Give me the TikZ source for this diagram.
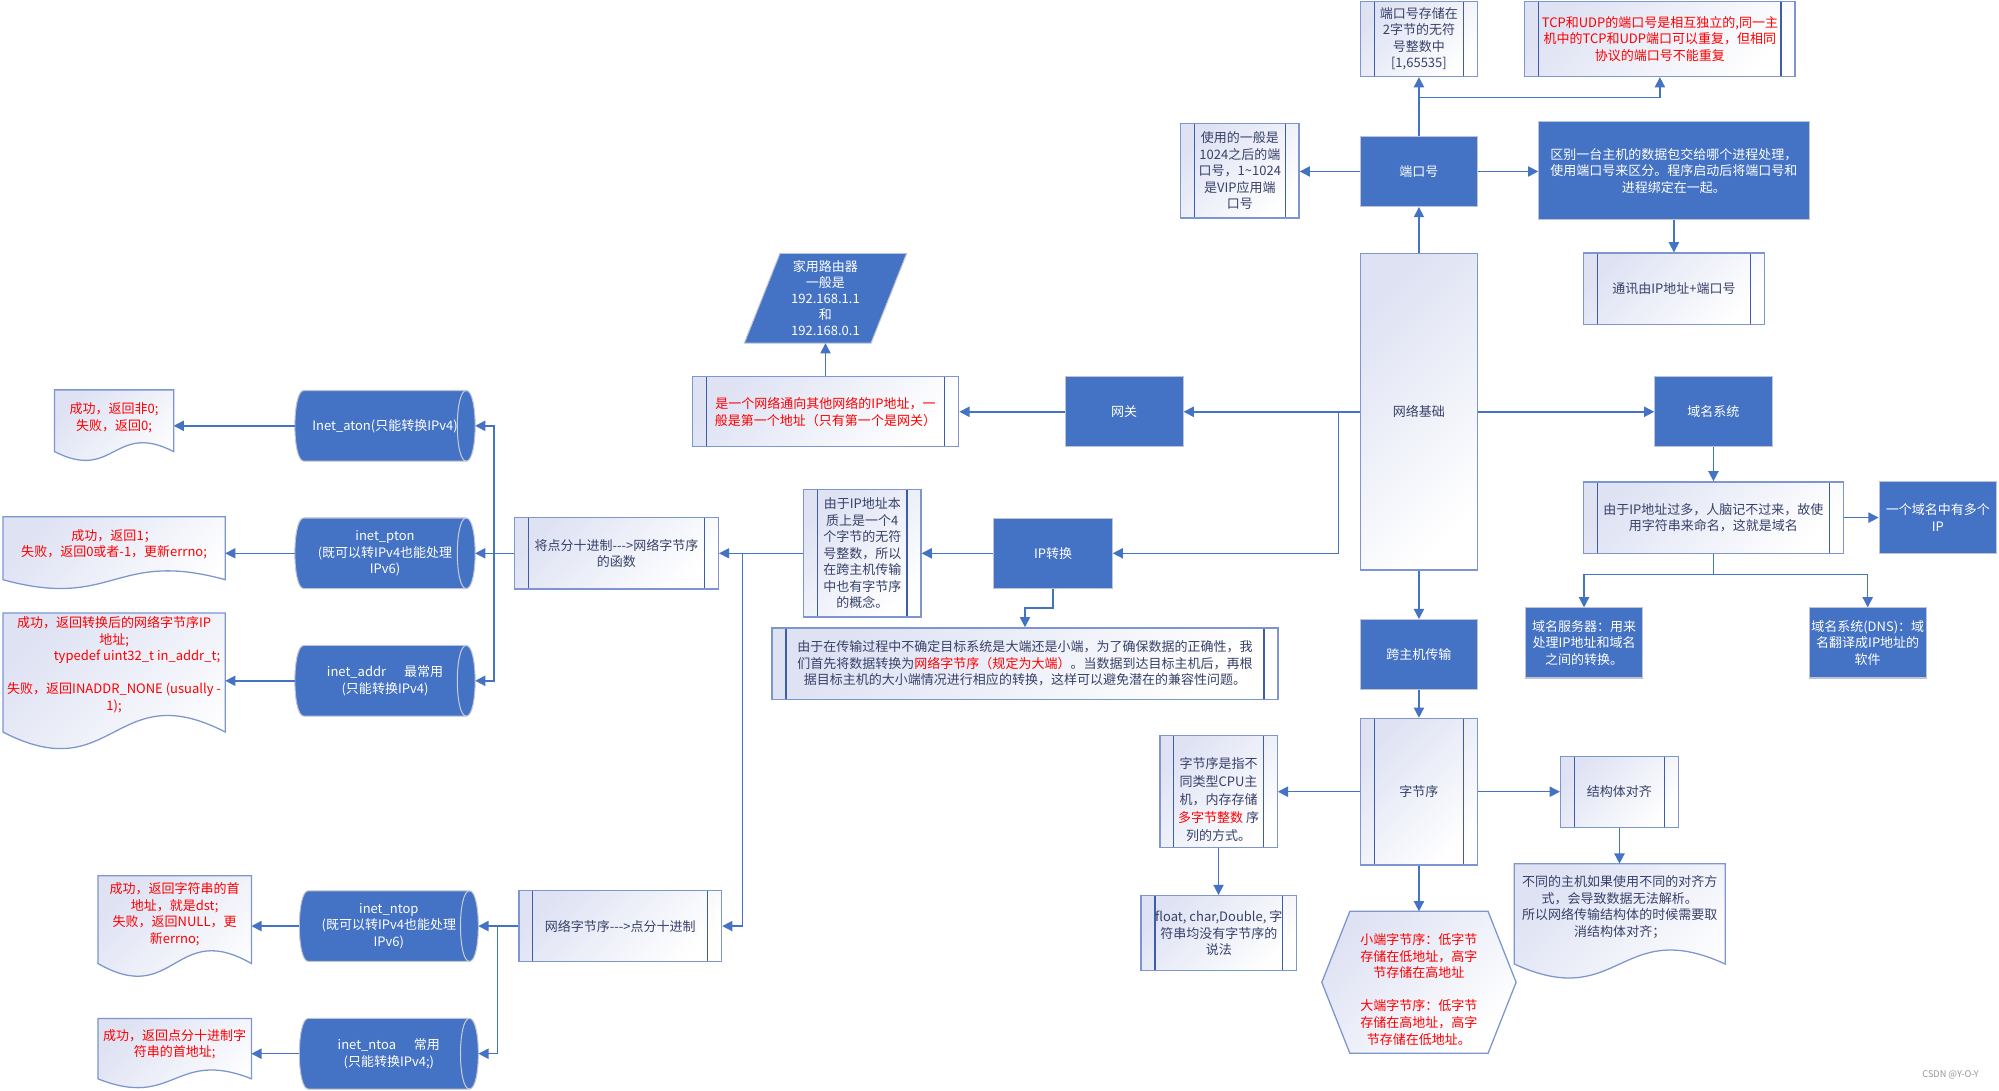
\documentclass[tikz,border=0pt]{standalone}
\usepackage{fontspec}
\setmainfont{Noto Sans CJK SC}[Ligatures=TeXOff]
\usetikzlibrary{arrows.meta,calc}
\definecolor{ablue}{RGB}{68,114,196}
\definecolor{bfill}{RGB}{68,114,196}
\definecolor{bedge}{RGB}{190,196,210}
\definecolor{sedge}{RGB}{125,150,208}
\definecolor{sinner}{RGB}{60,92,172}
\definecolor{lav}{RGB}{222,226,243}
\definecolor{txt}{RGB}{55,65,105}
\definecolor{rtxt}{RGB}{255,0,0}
\definecolor{cylin}{RGB}{200,205,218}
\pgfdeclarelayer{bg}
\pgfsetlayers{bg,main}
\newcommand\cylshape[1]{%
  \path[cylbody] ([xshift=7pt]#1.north west) -- ([xshift=-7pt]#1.north east)
    .. controls ([xshift=2.33pt]#1.north east) and ([xshift=2.33pt]#1.south east) .. ([xshift=-7pt]#1.south east)
    -- ([xshift=7pt]#1.south west)
    .. controls ([xshift=-2.33pt]#1.south west) and ([xshift=-2.33pt]#1.north west) .. ([xshift=7pt]#1.north west) -- cycle;
  \draw[cylin, line width=0.8pt] ([xshift=-7pt]#1.north east)
    .. controls ([xshift=-16.33pt]#1.north east) and ([xshift=-16.33pt]#1.south east) .. ([xshift=-7pt]#1.south east);}
\newcommand\docshape[2]{%
  \path[gradbox] (#1.south west) .. controls ([yshift=-#2pt]#1.south) and ([yshift=#2pt]#1.south) .. (#1.south east)
    -- (#1.north east) -- (#1.north west) -- cycle;}
\tikzset{
  every node/.style={font=\fontsize{10.2pt}{13pt}\selectfont, align=center, inner sep=0pt},
  sz/.style 2 args={minimum width=#1pt, minimum height=#2pt},
  bluebox/.style={draw=bedge, line width=0.8pt, fill=bfill, text=white},
  gradbox/.style={draw=sedge, line width=1pt, top color=lav, bottom color=white, shading angle=45, text=txt},
  subproc/.style={gradbox, path picture={
    \draw[sinner, line width=0.9pt] ([xshift=11pt]path picture bounding box.north west) -- ([xshift=11pt]path picture bounding box.south west);
    \draw[sinner, line width=0.9pt] ([xshift=-11pt]path picture bounding box.north east) -- ([xshift=-11pt]path picture bounding box.south east);}},
  shapebox/.style={draw=none, text=txt},
  cylbody/.style={fill=bfill, draw=bedge, line width=0.8pt},
  arr/.style={draw=ablue, line width=1.2pt, -{Triangle[length=8pt,width=8pt]}},
  conn/.style={draw=ablue, line width=1.2pt},
}
\begin{document}
\begin{tikzpicture}[x=1pt,y=-1pt]
\useasboundingbox (0,0) rectangle (1568,855);
\begin{pgfonlayer}{bg}
  \fill[white] (0,0) rectangle (1568,855);
\end{pgfonlayer}

% ---------- top cluster ----------
\node[subproc, sz={92}{59}] (pstore) at (1113,30.5) {端口号存储在\\2字节的无符\\号整数中\\{[}1,65535{]}};
\node[subproc, sz={212}{59}, text=rtxt] (tcp) at (1302,30.5) {TCP和UDP的端口号是相互独立的,同一主\\机中的TCP和UDP端口可以重复，但相同\\协议的端口号不能重复};
\node[subproc, sz={93}{74}] (use) at (972.5,134) {使用的一般是\\1024之后的端\\口号，1\textasciitilde1024\\是VIP应用端\\口号};
\node[bluebox, sz={92}{55}] (port) at (1113,134.5) {端口号};
\node[bluebox, sz={212}{77}] (diff) at (1313,134) {区别一台主机的数据包交给哪个进程处理，\\使用端口号来区分。程序启动后将端口号和\\进程绑定在一起。};
\node[subproc, sz={142}{56}] (comm) at (1313,226.5) {通讯由IP地址+端口号};
\node[gradbox, sz={92}{248}] (base) at (1113,323) {网络基础};
\node[bluebox, sz={92}{55}] (dns) at (1344,323) {域名系统};
\node[subproc, sz={204}{56}] (many) at (1344,406) {由于IP地址过多，人脑记不过来，故使\\用字符串来命名，这就是域名};
\node[bluebox, sz={92}{56}] (multi) at (1520,406) {一个域名中有多个\\IP};
\node[bluebox, sz={92}{55}] (dsrv) at (1242.5,504.3) {域名服务器：用来\\处理IP地址和域名\\之间的转换。};
\node[bluebox, sz={92}{55}] (dnssys) at (1465,504.3) {域名系统(DNS)：域\\名翻译成IP地址的\\软件};
\node[bluebox, sz={92}{55}] (cross) at (1113,513.5) {跨主机传输};
\node[subproc, sz={92}{115}] (order) at (1113,621) {字节序};
\node[subproc, sz={92}{88}] (orddef) at (955.8,620.8) {};
\node[text=txt, font=\fontsize{10.2pt}{14pt}\selectfont] (orddeft) at (955.8,627) {字节序是指不\\同类型CPU主\\机，内存存储\\{\color{rtxt}多字节整数} 序\\列的方式。};
\node[subproc, sz={122}{59}] (flt) at (956,732) {float, char,Double, 字\\符串均没有字节序的\\说法};
\node[shapebox, sz={152}{111}] (hex) at (1113,770.5) {};
\node[text=rtxt] (hext) at (1113,776) {小端字节序：低字节\\存储在低地址，高字\\节存储在高地址\\[13pt]大端字节序：低字节\\存储在高地址，高字\\节存储在低地址。};
\node[subproc, sz={92.5}{55.3}] (align) at (1270.3,621.2) {结构体对齐};
\node[shapebox, sz={165}{78.3}] (aldoc) at (1270.5,716.8) {};
\node[text=txt] (aldoct) at (1270.5,711.5) {不同的主机如果使用不同的对齐方\\式，会导致数据无法解析。\\所以网络传输结构体的时候需要取\\消结构体对齐；};

% ---------- middle ----------
\node[bluebox, sz={92.6}{55}] (gw) at (881.7,323) {网关};
\node[subproc, sz={209}{55}, text=rtxt] (gwdesc) at (647.5,323) {是一个网络通向其他网络的IP地址，一\\般是第一个地址（只有第一个是网关）};
\node[shapebox, sz={127}{70}, text=white, font=\fontsize{10.2pt}{12.5pt}\selectfont] (router) at (647.5,234) {家用路由器\\一般是\\192.168.1.1\\和\\192.168.0.1};
\node[bluebox, sz={92.8}{55}] (ipconv) at (826,434) {IP转换};
\node[subproc, sz={92}{100}] (ipdesc) at (676.4,434) {由于IP地址本\\质上是一个4\\个字节的无符\\号整数，所以\\在跨主机传输\\中也有字节序\\的概念。};
\node[subproc, sz={397}{56}] (endian) at (804,520.5) {由于在传输过程中不确定目标系统是大端还是小端，为了确保数据的正确性，我\\们首先将数据转换为{\color{rtxt}网络字节序（规定为大端）}。当数据到达目标主机后，再根\\据目标主机的大小端情况进行相应的转换，这样可以避免潜在的兼容性问题。};
\node[subproc, sz={160}{56}] (p2n) at (483.5,434) {将点分十进制--->网络字节序\\的函数};
\node[subproc, sz={159}{55.5}] (n2p) at (486.5,726.4) {网络字节序--->点分十进制};

% ---------- cylinders ----------
\node[shapebox, sz={141}{55}, text=white] (aton) at (302,334) {Inet\_aton(只能转换IPv4)};
\node[shapebox, sz={141}{55}, text=white] (pton) at (302,434) {inet\_pton\\(既可以转IPv4也能处理\\IPv6)};
\node[shapebox, sz={141}{55}, text=white] (addr) at (302,534) {inet\_addr\hspace{14pt}最常用\\(只能转换IPv4)};
\node[shapebox, sz={140}{55}, text=white] (ntop) at (305,726.4) {inet\_ntop\\(既可以转IPv4也能处理\\IPv6)};
\node[shapebox, sz={140}{55}, text=white] (ntoa) at (305,826.5) {inet\_ntoa\hspace{14pt}常用\\(只能转换IPv4;)};

% ---------- documents ----------
\node[shapebox, sz={93}{48}] (d1) at (89.5,330) {};
\node[text=rtxt] (d1t) at (89.5,327.5) {成功，返回非0;\\失败，返回0;};
\node[shapebox, sz={174}{49}] (d2) at (89.5,430) {};
\node[text=rtxt] (d2t) at (89.5,427) {成功，返回1；\\失败，返回0或者-1，更新errno;};
\node[shapebox, sz={174}{93}] (d3) at (89.5,527.5) {};
\node[text=rtxt] (d3t) at (89.5,521.5) {成功，返回转换后的网络字节序IP\\地址;\\\hspace*{36pt}typedef uint32\_t in\_addr\_t;\\[13pt]失败，返回INADDR\_NONE (usually -\\1);};
\node[shapebox, sz={120}{68.5}] (d4) at (137,721.3) {};
\node[text=rtxt] (d4t) at (137,717) {成功，返回字符串的首\\地址，就是dst;\\失败，返回NULL，更\\新errno;};
\node[shapebox, sz={120}{47}] (d5) at (137,822.5) {};
\node[text=rtxt] (d5t) at (137,819) {成功，返回点分十进制字\\符串的首地址;};

\node[text={rgb,255:red,150;green,150;blue,150}, font=\fontsize{7.2pt}{8pt}\selectfont] (wm) at (1530,843) {CSDN @Y-O-Y};

% ---------- shape bodies ----------
\begin{pgfonlayer}{bg}
  \cylshape{aton}\cylshape{pton}\cylshape{addr}\cylshape{ntop}\cylshape{ntoa}
  \docshape{d1}{24}\docshape{d2}{24}\docshape{d3}{45}\docshape{d4}{34.6}\docshape{d5}{24}\docshape{aldoc}{38}
  \path[gradbox] ([xshift=22pt]hex.north west) -- ([xshift=-22pt]hex.north east) -- (hex.east)
     -- ([xshift=-22pt]hex.south east) -- ([xshift=22pt]hex.south west) -- (hex.west) -- cycle;
  \path[bluebox] (router.south west) -- ([xshift=-28pt]router.south east) -- (router.north east)
     -- ([xshift=28pt]router.north west) -- cycle;
\end{pgfonlayer}

% ---------- connectors ----------
\coordinate (j1) at (1113,76.6);
\draw[arr] (port.north) -- (pstore.south);
\draw[arr] (j1) -| (tcp.south);
\draw[arr] (port.west) -- (port.west -| use.east);
\draw[arr] (port.east) -- (port.east -| diff.west);
\draw[arr] (diff.south) -- (comm.north);
\draw[arr] (base.north) -- (port.south);
\draw[arr] (base.east) -- (dns.west);
\draw[arr] (dns.south) -- (many.north);
\draw[arr] (many.east) -- (multi.west);
\coordinate (j2) at (1344,450.5);
\draw[conn] (many.south) -- (j2);
\draw[arr] (j2) -| (dsrv.north);
\draw[arr] (j2) -| (dnssys.north);
\draw[arr] (base.south) -- (cross.north);
\draw[arr] (cross.south) -- (order.north);
\draw[arr] (order.west) -- (order.west -| orddef.east);
\draw[arr] (orddef.south) -- (orddef.south |- flt.north);
\draw[arr] (order.south) -- (hex.north);
\draw[arr] (order.east) -- (order.east -| align.west);
\draw[arr] (align.south) -- (align.south |- aldoc.north);
\coordinate (j3) at (1050,323);
\draw[arr] (base.west) -- (gw.east);
\draw[arr] (j3) |- (ipconv.east);
\draw[arr] (gw.west) -- (gwdesc.east);
\draw[arr] (gwdesc.north) -- (router.south);
\draw[arr] (ipconv.west) -- (ipdesc.east);
\coordinate (j4) at (826,477);
\draw[arr] (ipconv.south) -- (j4) -| (endian.north);
\coordinate (j6) at (582.5,434);
\draw[arr] (ipdesc.west) -- (p2n.east);
\draw[arr] (j6) |- (n2p.east);
\coordinate (j7) at (387.6,434);
\draw[arr] (p2n.west) -- (pton.east);
\draw[arr] (j7) |- (aton.east);
\draw[arr] (j7) |- (addr.east);
\draw[arr] (aton.west) -- (aton.west -| d1.east);
\draw[arr] (pton.west) -- (pton.west -| d2.east);
\draw[arr] (addr.west) -- (addr.west -| d3.east);
\coordinate (j8) at (390.3,726.4);
\draw[arr] (n2p.west) -- (ntop.east);
\draw[arr] (j8) |- (ntoa.east);
\draw[arr] (ntop.west) -- (ntop.west -| d4.east);
\draw[arr] (ntoa.west) -- (ntoa.west -| d5.east);
\end{tikzpicture}
\end{document}
